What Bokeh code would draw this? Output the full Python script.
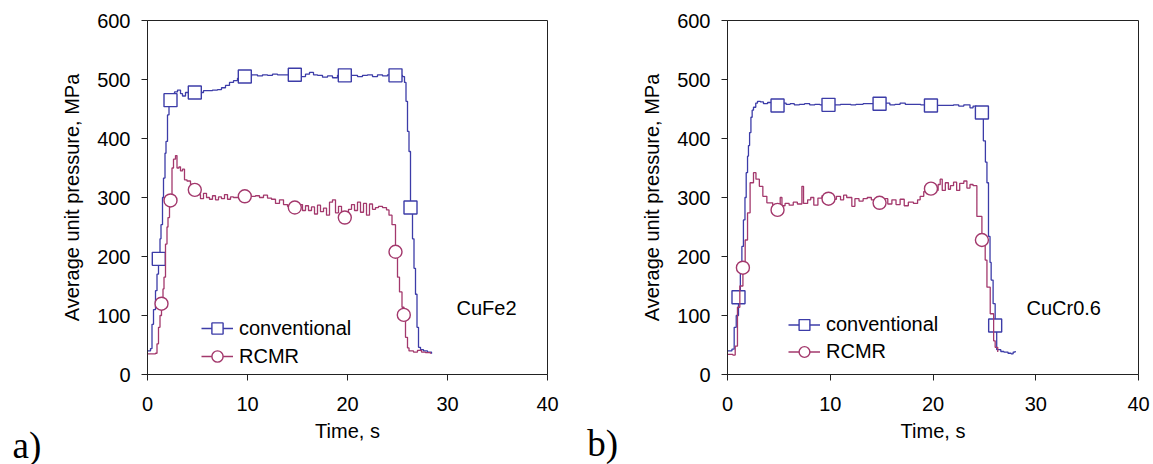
from bokeh.plotting import figure
from bokeh.layouts import row
from bokeh.models import Range1d, FixedTicker, Legend, LegendItem, Label
from bokeh.embed import file_html
from bokeh.resources import INLINE

# ---------------- data ----------------
x_ticks = [0, 10, 20, 30, 40]
y_ticks = [0, 100, 200, 300, 400, 500, 600]

# panel a) CuFe2
a_conv_t = [0, 0.3, 0.45, 0.6, 0.8, 0.95, 1.1, 1.25, 1.35, 1.5, 1.6, 1.75, 1.85, 2.0, 2.15, 2.3,
            2.5, 2.7, 3.0, 3.3, 3.5, 3.8, 4.2, 4.7, 5.2, 5.6, 6.0, 6.5, 7.0, 7.4, 7.8, 8.2, 8.6,
            9.0, 9.4, 9.8, 10.4, 11.0, 11.5, 12.0, 12.5, 13.0, 13.5, 14.0, 14.8, 15.3, 15.8, 16.2,
            16.6, 17.0, 17.5, 18.0, 18.5, 19.0, 19.8, 20.5, 21.0, 21.5, 22.0, 22.5, 23.0, 23.5,
            24.0, 24.8, 25.5, 25.7, 25.85, 26.0, 26.15, 26.3, 26.5, 26.65, 26.8, 26.95, 27.1,
            27.3, 27.6, 28.0, 28.4]
a_conv_p = [40, 44, 85, 110, 142, 170, 196, 230, 254, 300, 333, 375, 395, 440, 455, 465,
            475, 479, 482, 476, 472, 478, 476, 479, 478, 481, 481, 482, 483, 486, 490, 495, 498,
            502, 504, 505, 508, 506, 508, 507, 509, 508, 508, 508, 508, 505, 509, 512,
            508, 507, 504, 506, 503, 507, 507, 507, 505, 507, 508, 505, 508, 506,
            508, 507, 505, 495, 463, 412, 378, 283, 230, 180, 136, 80, 46,
            42, 40, 38, 35]
a_conv_mt = [1.13, 2.3, 4.73, 9.73, 14.73, 19.73, 24.8, 26.3]
a_conv_mp = [196, 465, 478, 505, 508, 507, 507, 283]

a_rcmr_t = [0, 0.8, 0.95, 1.1, 1.25, 1.4, 1.55, 1.65, 1.8, 1.95, 2.05, 2.2, 2.35, 2.45, 2.6, 2.8,
            2.95, 3.15, 3.3, 3.5, 3.7, 3.95, 4.3, 4.7, 5.0, 5.3, 5.6, 5.9, 6.2, 6.5, 6.8, 7.1,
            7.4, 7.7, 8.0, 8.3, 8.6, 9.0, 9.4, 9.8, 10.3, 10.8, 11.2, 11.6, 12.0, 12.4, 12.8,
            13.2, 13.6, 14.0, 14.4, 14.8, 15.2, 15.5, 15.8, 16.1, 16.4, 16.7, 17.0, 17.3, 17.6,
            17.9, 18.2, 18.5, 18.8, 19.1, 19.4, 19.8, 20.1, 20.4, 20.7, 21.0, 21.3, 21.6, 21.9,
            22.2, 22.5, 22.8, 23.1, 23.5, 23.9, 24.15, 24.45, 24.8, 25.0, 25.2, 25.45, 25.65,
            25.8, 26.0, 26.15, 26.6, 27.0, 27.4, 27.8, 28.3]
a_rcmr_p = [35, 36, 52, 80, 100, 120, 145, 165, 221, 250, 266, 285, 300, 350, 365, 371,
            350, 352, 345, 348, 330, 328, 322, 313, 305, 298, 307, 300, 297, 303, 296, 301,
            298, 305, 297, 301, 300, 300, 294, 302, 302, 303, 300, 304, 299, 297, 290,
            296, 288, 285, 290, 283, 288, 278, 286, 278, 284, 272, 287, 276, 282,
            270, 292, 296, 274, 285, 270, 266, 280, 288, 278, 292, 275, 290, 270,
            289, 280, 283, 285, 283, 279, 270, 254, 208, 165, 140, 114, 100,
            63, 45, 40, 38, 41, 38, 37, 35]
a_rcmr_mt = [1.4, 2.3, 4.73, 9.73, 14.73, 19.73, 24.8, 25.63]
a_rcmr_mp = [120, 295, 313, 302, 283, 266, 208, 101]

# panel b) CuCr0.6
b_conv_t = [0, 0.43, 0.65, 0.85, 1.07, 1.25, 1.4, 1.55, 1.7, 1.82, 1.95, 2.04, 2.15, 2.28, 2.4,
            2.53, 2.75, 2.92, 3.2, 3.5, 3.9, 4.3, 4.87, 5.3, 5.7, 6.1, 6.5, 7.0, 7.5, 8.0, 8.5,
            9.0, 9.83, 10.5, 11.0, 11.5, 12.0, 12.5, 13.2, 14.0, 14.8, 15.4, 15.8, 16.3, 16.8,
            17.3, 18.0, 18.8, 19.8, 20.5, 21.4, 22.0, 22.5, 23.0, 23.6, 23.9, 24.2, 24.76, 24.9,
            25.1, 25.25, 25.4, 25.55, 25.66, 25.85, 26.05, 26.2, 26.6, 26.9, 27.3, 27.6, 27.8, 28.0]
b_conv_p = [40, 43, 80, 100, 131, 175, 217, 262, 300, 342, 370, 388, 410, 436, 448,
            453, 460, 463, 462, 459, 461, 458, 456, 460, 458, 459, 457, 458, 459, 457, 458,
            457, 457, 457, 458, 458, 457, 458, 459, 459, 459, 460, 457, 458, 460,
            458, 458, 457, 456, 456, 456, 457, 455, 457, 452, 455, 450, 444, 396,
            360, 325, 234, 190, 160, 120, 83, 42, 39, 38, 36, 35, 38, 40]
b_conv_mt = [1.07, 4.87, 9.83, 14.8, 19.8, 24.76, 26.05]
b_conv_mp = [131, 456, 457, 459, 456, 444, 83]

b_rcmr_t = [0, 0.52, 0.75, 0.97, 1.2, 1.5, 1.72, 1.95, 2.2, 2.53, 2.77, 3.1, 3.44, 3.83, 4.4,
            4.87, 5.13, 5.3, 5.6, 6.0, 6.4, 6.8, 7.24, 7.4, 7.8, 8.1, 8.4, 8.8, 9.2, 9.5, 9.83,
            10.2, 10.6, 11.0, 11.3, 11.6, 12.1, 12.4, 12.8, 13.2, 13.6, 14.0, 14.4, 14.8, 15.2,
            15.6, 16.0, 16.4, 16.8, 17.2, 17.6, 18.1, 18.5, 18.75, 19.1, 19.4, 19.8, 20.2, 20.5,
            20.7, 20.9, 21.2, 21.5, 21.7, 22.0, 22.3, 22.6, 23.0, 23.3, 23.6, 23.9, 24.27, 24.76,
            25.08, 25.25, 25.57, 25.9, 26.05, 26.3]
b_rcmr_p = [34, 33, 48, 114, 150, 181, 228, 274, 325, 342, 331, 319, 302, 291, 285,
            279, 300, 286, 290, 287, 292, 289, 319, 290, 296, 300, 287, 299, 303, 292, 298,
            297, 302, 296, 304, 300, 285, 298, 294, 298, 300, 296, 293, 291, 298,
            289, 296, 288, 297, 286, 292, 290, 296, 302, 310, 306, 315, 312, 322,
            331, 312, 325, 314, 320, 326, 312, 324, 328, 316, 322, 320, 268, 228,
            194, 148, 103, 57, 46, 38]
b_rcmr_mt = [1.5, 4.87, 9.83, 14.8, 19.8, 24.76]
b_rcmr_mp = [181, 279, 298, 291, 315, 228]

series_names = ["conventional", "RCMR"]
CONV = "#3C3CA8"
RCMR = "#A3386C"
FONT = "Liberation Sans"
H = 464


def make_panel(width, mbl, mbr, mbt, mbb, conv, rcmr, alloy, alloy_xy, tag, tag_xy,
               leg_loc, leg_gh):
    p = figure(width=width, height=H, output_backend="svg", toolbar_location=None,
               x_range=Range1d(0, 40), y_range=Range1d(0, 600),
               min_border_left=mbl, min_border_right=mbr,
               min_border_top=mbt, min_border_bottom=mbb)
    p.grid.visible = False
    p.outline_line_color = "#222222"
    p.outline_line_width = 1
    p.background_fill_color = "white"
    p.border_fill_color = "white"

    for ax in (p.xaxis[0], p.yaxis[0]):
        ax.axis_line_color = "#222222"
        ax.major_tick_line_color = "#222222"
        ax.minor_tick_line_color = None
        ax.major_tick_in = 0
        ax.major_tick_out = 6
        ax.major_label_text_font = FONT
        ax.major_label_text_font_size = "20px"
        ax.major_label_text_color = "black"
        ax.axis_label_text_font = FONT
        ax.axis_label_text_font_size = "20px"
        ax.axis_label_text_font_style = "normal"
        ax.axis_label_text_color = "black"
    p.xaxis[0].major_label_standoff = 16
    p.yaxis[0].major_label_standoff = 11
    p.xaxis[0].ticker = FixedTicker(ticks=x_ticks)
    p.yaxis[0].ticker = FixedTicker(ticks=y_ticks)
    p.xaxis[0].axis_label = "Time, s"
    p.yaxis[0].axis_label = "Average unit pressure, MPa"
    p.xaxis[0].axis_label_standoff = 6
    p.yaxis[0].axis_label_standoff = 11

    (ct, cp, cmt, cmp_) = conv
    (rt, rp, rmt, rmp) = rcmr
    l1 = p.step(ct, cp, mode="after", line_color=CONV, line_width=1.3)
    m1 = p.scatter(cmt, cmp_, marker="square", size=13, fill_color="white",
                   line_color=CONV, line_width=1.4)
    l2 = p.step(rt, rp, mode="after", line_color=RCMR, line_width=1.3)
    m2 = p.scatter(rmt, rmp, marker="circle", size=13, fill_color="white",
                   line_color=RCMR, line_width=1.4)

    leg = Legend(items=[LegendItem(label=series_names[0], renderers=[l1, m1]),
                        LegendItem(label=series_names[1], renderers=[l2, m2])],
                 location=leg_loc, padding=0, margin=0, spacing=0,
                 glyph_width=32, glyph_height=leg_gh, label_standoff=6,
                 label_text_font=FONT, label_text_font_size="20px",
                 label_text_color="black",
                 border_line_color=None, background_fill_alpha=0)
    p.add_layout(leg, "center")

    p.add_layout(Label(x=alloy_xy[0], y=alloy_xy[1], text=alloy, text_font=FONT,
                       text_font_size="20px", text_color="black",
                       text_baseline="alphabetic", text_align="left"))
    # panel tag, placed in the left side panel so it is not clipped to the frame
    p.add_layout(Label(x=tag_xy[0], y=tag_xy[1], text=tag, text_font="Liberation Serif",
                       x_units="data", y_units="data",
                       text_font_size="37px", text_color="black",
                       text_baseline="middle", text_align="left"), "left")
    return p


pa = make_panel(580, 147, 33, 20, 90,
                (a_conv_t, a_conv_p, a_conv_mt, a_conv_mp),
                (a_rcmr_t, a_rcmr_p, a_rcmr_mt, a_rcmr_mp),
                "CuFe2", (30.9, 113), "a)", (-13.5, -121), (54, 4), 28)
pb = make_panel(573, 147, 15, 20, 90,
                (b_conv_t, b_conv_p, b_conv_mt, b_conv_mp),
                (b_rcmr_t, b_rcmr_p, b_rcmr_mt, b_rcmr_mp),
                "CuCr0.6", (29.1, 113.5), "b)", (-13.65, -117), (61, 9), 27)

layout = row(pa, pb, spacing=0)
open("out.html", "w").write(file_html(layout, INLINE))
